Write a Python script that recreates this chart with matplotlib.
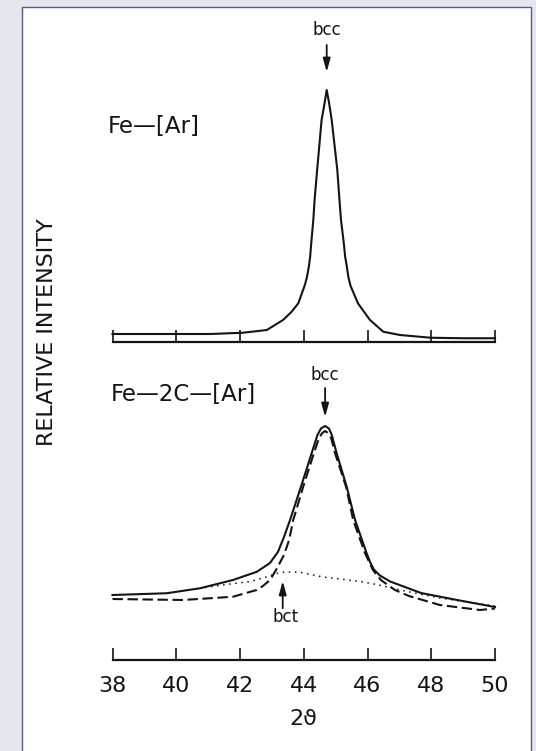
import matplotlib
matplotlib.use("Agg")
import matplotlib.pyplot as plt
from matplotlib.patches import Rectangle

# ---------------- data ----------------
tick_values = [38, 40, 42, 44, 46, 48, 50]
tick_labels = ["38", "40", "42", "44", "46", "48", "50"]

# Fe-[Ar] : single bcc peak
fe_x = [38.0, 39.96, 41.06, 42.09, 42.84, 43.35, 43.62, 43.83, 44.04, 44.10,
        44.165, 44.20, 44.23, 44.30, 44.34, 44.42, 44.49, 44.56, 44.66, 44.72,
        44.79, 44.877, 44.965, 45.053, 45.12, 45.169, 45.263, 45.30, 45.348, 45.40,
        45.467, 45.70, 45.89, 46.078, 46.496, 47.02, 47.99, 49.0, 50.0]
fe_y = [3.2, 3.2, 3.2, 3.7, 4.8, 8.8, 12.1, 15.5, 23.0, 26.0,
        30.5, 34.0, 38.8, 48.8, 56.8, 68.8, 78.8, 88.8, 96.0, 100.8,
        96.0, 88.8, 78.8, 68.8, 56.8, 48.8, 38.8, 34.0, 30.5, 26.0,
        22.5, 15.5, 12.1, 8.8, 4.1, 2.8, 1.7, 1.5, 1.5]

# Fe-2C-[Ar] : measured profile (solid)
fec_x = [38.0, 39.70, 40.75, 41.78, 42.53, 42.94, 43.19, 43.38, 43.57, 43.91,
         44.25, 44.43, 44.54, 44.67, 44.79, 44.88, 45.03, 45.35, 45.61, 45.97,
         46.08, 46.20, 46.39, 46.71, 47.68, 48.81, 50.0]
fec_y = [25.8, 26.5, 28.5, 31.8, 35.1, 38.6, 43.0, 49.0, 55.8, 69.0,
         82.6, 89.8, 92.4, 93.4, 92.4, 89.8, 82.6, 69.0, 55.8, 42.6,
         39.0, 36.0, 33.6, 31.2, 26.6, 23.8, 21.0]

# bcc component (dashed)
bcc_x = [38.0, 40.21, 41.78, 42.52, 42.72, 42.94, 43.13, 43.38, 43.54, 43.67,
         43.98, 44.32, 44.48, 44.58, 44.67, 44.76, 44.86, 44.98, 45.33, 45.55,
         45.92, 46.17, 46.42, 46.86, 47.30, 48.27, 49.53, 50.0]
bcc_y = [24.2, 23.8, 25.1, 27.8, 29.4, 31.8, 35.8, 41.8, 47.8, 55.8,
         69.0, 82.6, 88.6, 90.6, 91.4, 90.6, 88.6, 82.6, 69.0, 55.8,
         42.6, 35.8, 31.8, 27.8, 25.4, 21.8, 19.8, 20.4]

# bct component (dotted)
bct_x = [40.90, 41.69, 42.31, 42.78, 43.15, 43.41, 43.88, 44.60, 45.14, 45.76,
         46.29, 47.02, 48.27, 50.0]
bct_y = [28.8, 30.2, 31.2, 32.8, 34.4, 35.0, 34.9, 33.0, 32.2, 31.2,
         30.0, 27.8, 24.6, 21.4]

bcc_top_pos = 44.72
bcc_bot_pos = 44.67
bct_pos = 43.34

# ---------------- figure ----------------
W, H = 536, 751
fig = plt.figure(figsize=(W / 100, H / 100), dpi=100)
fig.patch.set_facecolor("#e4e7ee")

panel = Rectangle((22 / W, -0.01), (531 - 22) / W, 1.01 - 7 / H,
                  transform=fig.transFigure, facecolor="white",
                  edgecolor="#5b5b80", linewidth=1.0, zorder=-10)
fig.patches.append(panel)

INK = "#141414"
x0, x1 = 112.5, 495.0
left = x0 / W
width = (x1 - x0) / W

def make_ax(px_top, px_bottom):
    ax = fig.add_axes([left, 1 - px_bottom / H, width, (px_bottom - px_top) / H])
    ax.set_xlim(38, 50)
    ax.set_ylim(0, (px_bottom - px_top) / 2.5)
    ax.patch.set_alpha(0)
    for s in ["top", "left", "right"]:
        ax.spines[s].set_visible(False)
    ax.spines["bottom"].set_linewidth(1.6)
    ax.spines["bottom"].set_color(INK)
    ax.set_yticks([])
    ax.set_xticks(tick_values)
    ax.tick_params(axis="x", direction="in", length=8.6, width=1.2,
                   colors=INK, labelsize=16, pad=12)
    return ax

ax1 = make_ax(20, 342)
ax2 = make_ax(365, 659.5)

ax1.set_xticklabels([])
ax2.set_xticklabels(tick_labels)
ax2.set_xlabel("2ϑ", fontsize=16, color=INK, labelpad=9)

# curves
ax1.plot(fe_x, fe_y, color=INK, lw=1.5, clip_on=False, solid_joinstyle="round")
ax2.plot(fec_x, fec_y, color=INK, lw=1.5, clip_on=False, solid_joinstyle="round")
ax2.plot(bcc_x, bcc_y, color=INK, lw=1.5, dashes=(5, 2.2), clip_on=False)
ax2.plot(bct_x, bct_y, color=INK, lw=1.1, dashes=(1, 3), clip_on=False)

# labels
ax1.text(37.86, 86.4, "Fe—[Ar]", fontsize=16.5, color=INK, ha="left", va="center")
ax2.text(37.95, 105.8, "Fe—2C—[Ar]", fontsize=16.5, color=INK, ha="left", va="center")

arrow = dict(arrowstyle="-|>,head_length=0.8,head_width=0.22", lw=1.3,
             color=INK, shrinkA=0, shrinkB=0, mutation_scale=10)
ax1.text(bcc_top_pos, 124.8, "bcc", fontsize=12, color=INK, ha="center", va="center")
ax1.annotate("", xy=(bcc_top_pos, 108.0), xytext=(bcc_top_pos, 118.8), arrowprops=arrow)

ax2.text(bcc_bot_pos, 113.8, "bcc", fontsize=12, color=INK, ha="center", va="center")
ax2.annotate("", xy=(bcc_bot_pos, 97.0), xytext=(bcc_bot_pos, 108.6), arrowprops=arrow)

ax2.annotate("", xy=(bct_pos, 31.4), xytext=(bct_pos, 20.5), arrowprops=arrow,
             annotation_clip=False)
ax2.text(bct_pos + 0.1, 17.0, "bct", fontsize=12, color=INK, ha="center", va="center")

fig.text(47 / W, 1 - 332 / H, "RELATIVE INTENSITY", rotation=90, fontsize=16,
         color=INK, ha="center", va="center")

fig.savefig("out.png", dpi=100, facecolor=fig.get_facecolor())
